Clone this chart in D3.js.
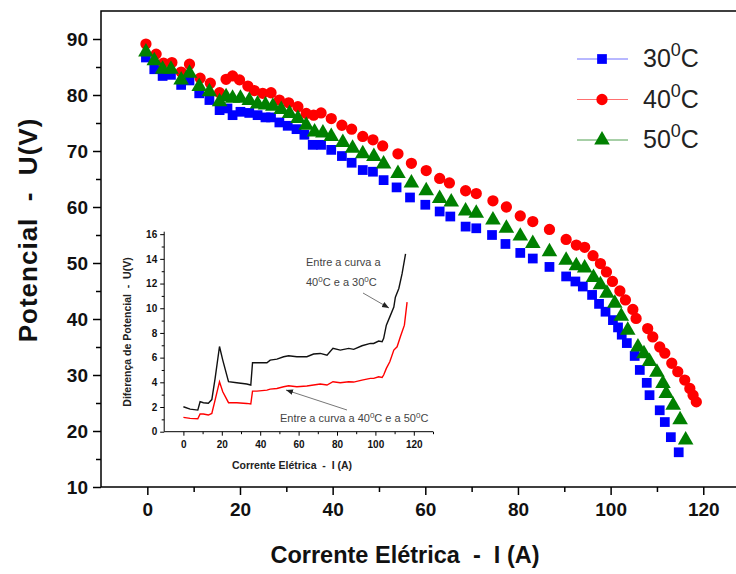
<!DOCTYPE html>
<html>
<head>
<meta charset="utf-8">
<script src="https://cdn.jsdelivr.net/npm/d3@7"></script>
<style>
    body { margin: 0; background: #fff; }
    text { font-family: "Liberation Sans", Arial, sans-serif; }
</style>
</head>
<body>
<div id="chart"></div>
<script>
// main chart: current I (A) and potential U (V)
const i30 = [-0.3,1.5,3.3,5.1,7.3,9.1,11.2,13.4,15.6,17.3,18.4,20.1,22,23.8,25.5,26.7,28.5,30.3,32.2,33.9,35.7,37.5,39.7,42,44.1,46.5,48.7,51,53.8,56.7,60,63.1,65.4,68.7,71,74.4,77.3,80.5,83.2,86.8,90.4,92.4,94,96,97.5,98.9,100.5,101.6,102.4,103.5,105.2,106.3,107.8,108.4,110.6,111.7,113,114.7]
const u30 = [86.7,84.6,83.4,83.6,81.8,82.6,80.3,79.1,77.3,77.6,76.4,77,76.8,76.4,76,76,75.1,74.5,73.9,72.9,71.1,71.1,70.2,69.1,67.9,66.6,66.3,64.8,63.5,61.7,60.4,59.2,58.3,56.5,56.2,55,53.4,51.8,50.8,49.3,47.6,46.7,45.8,44.3,42.7,41.3,39.8,38.5,37.2,35.7,33.4,30.9,28.6,26.4,23.7,21.6,18.9,16.2]

const i40 = [-0.3,1.9,3.5,5.3,7.3,9.1,11.4,13.6,15.6,17,18.4,19.9,21.7,23.1,24.9,26.7,28.5,30.5,32.5,34.3,35.9,37.5,39.7,42,44.1,46.5,48.7,50.8,54.1,57,60.2,63.1,65.2,68.7,71,74.6,77.5,80.5,83.2,86.8,90.4,92.6,94.4,96.2,97.8,99.1,100.4,102,103.2,104.8,105.5,108,109.1,110.6,111.7,113.2,114.5,116,117.1,117.8,118.5]
const u40 = [89.1,87.3,85.7,85.8,84.1,85.5,83,82.1,80.4,82.8,83.4,82.7,81.6,80.8,80.3,80.4,79.1,78.6,77.9,76.7,76.4,76.8,75.8,74.6,73.9,72.6,72,70.9,69.5,67.8,66.5,65.1,64.3,62.9,62.4,61.1,60,58.4,57.4,56,54.2,53.2,52.8,51.3,49.9,48.4,46.7,45,43.4,41.7,40.1,38.3,36.8,35,33.9,32.1,30.6,29.1,27.6,26.4,25.2]

const i50 = [-0.3,1.5,3.3,5.1,7.3,9.1,11.2,13.4,15.6,17,18.4,20.1,22,23.8,25.5,27.1,28.9,30.7,32.5,34.3,36.1,37.9,39.7,42.2,44.3,46.5,48.9,51,54.1,57,60.2,63.1,65.6,68.7,71,74.6,77.5,80.5,83.2,86.8,90.4,92.6,94.4,96.3,97.8,99.2,100.9,102.3,103.7,105.9,107.2,108.4,110,111.3,112,113.5,115,116.2]
const u50 = [87.7,86.1,84.6,84.6,82.7,83.9,81.5,80.6,78.8,79.7,79.4,79.4,79,78.4,78.2,78,77.4,76.7,75.8,74.6,73.4,73.2,72.6,71.5,70.5,69.5,69,67.7,66,64.3,62.9,61.5,60.9,59.3,58.9,57.7,56.2,54.8,53.5,52,50.5,49.5,49.1,47.4,46.1,44.6,42.8,40.5,38,35,33.8,32.4,30.5,28.5,26.7,24.6,22,18.4]

// inset: difference of potential
const iDiff = [0,3.5,7.5,8.7,10.4,13,14.8,16.5,18.8,20.5,23.5,27.8,33,35.1,36,38.3,43.5,45.2,48.7,52.2,54.8,59.1,64.3,67.8,71.3,74.8,77.9,81.7,86.1,88.7,93,97.4,99.1,101.7,103.5,104.3,105.7,107.5,109.6,110.4,112.2,113.9,115.7]
const d40_30 = [2.02,1.83,1.75,2.43,2.35,2.3,2.6,4.3,6.9,5.8,4.05,3.97,3.86,3.78,5.58,5.58,5.58,5.8,5.88,6.07,6.15,6.07,6.07,6.29,6.34,6.2,6.75,6.61,6.75,6.67,6.96,7.15,7.15,7.34,7.29,7.56,8.63,9.3,10.1,10.9,11.6,12.8,14.4]
const iDiff2 = [0,3.5,7.5,8.7,10.4,13,14.8,16.5,18.8,20.5,23.5,27.8,33,35.1,36,38.3,43.5,45.2,48.7,52.2,54.8,59.1,64.3,67.8,71.3,74.8,77.9,81.7,86.1,88.7,93,97.4,99.1,101.7,103.5,104.3,105.7,107.5,109.6,111.3,113,115.1,116.5]
const d40_50 = [1.16,1.08,1.05,1.43,1.43,1.35,1.48,2.56,4.05,3.24,2.35,2.35,2.29,2.24,3.29,3.29,3.37,3.45,3.5,3.64,3.72,3.64,3.7,3.78,3.86,3.78,4.05,3.97,4.05,4.02,4.18,4.32,4.32,4.45,4.4,4.59,5.13,5.67,6.61,6.88,7.69,8.63,10.5]

const xTicks = [0, 20, 40, 60, 80, 100, 120]
const yTicks = [10, 20, 30, 40, 50, 60, 70, 80, 90]
const insetXTicks = [0, 20, 40, 60, 80, 100, 120]
const insetYTicks = [0, 2, 4, 6, 8, 10, 12, 14, 16]

const series = [
    { name: '30', i: i30, u: u30, color: '#0000ff', line: '#7070ff', shape: d3.symbolSquare },
    { name: '40', i: i40, u: u40, color: '#ff0000', line: '#ff7070', shape: d3.symbolCircle },
    { name: '50', i: i50, u: u50, color: '#008000', line: '#50a050', shape: d3.symbolTriangle },
]

const width = 736
const height = 574

const svg = d3
    .select('#chart')
    .append('svg')
    .attr('width', width)
    .attr('height', height)

const xScale = d3.scaleLinear().domain([-10, 130]).range([101, 749.6])
const yScale = d3.scaleLinear().domain([10, 95]).range([487, 11])

const symSize = s => s.shape === d3.symbolTriangle ? 105 : (s.shape === d3.symbolSquare ? 95 : 100)

// frame (right edge falls outside the picture)
svg.append('path')
    .attr('d', `M${xScale(130)},${yScale(95)}H${xScale(-10)}V${yScale(10)}H${xScale(130)}`)
    .attr('fill', 'none')
    .attr('stroke', '#000')
    .attr('stroke-width', 1.5)

const xAxis = svg
    .append('g')
    .attr('transform', `translate(0,${yScale(10)})`)
    .call(d3.axisBottom(xScale).tickValues(xTicks).tickSize(8).tickSizeOuter(0).tickPadding(8))
xAxis.select('.domain').remove()
xAxis.selectAll('line').attr('stroke-width', 1.5)
xAxis.selectAll('text')
    .attr('font-size', 19)
    .attr('font-weight', 'bold')
    .attr('fill', '#111')

svg.append('g')
    .attr('transform', `translate(0,${yScale(10)})`)
    .call(d3.axisBottom(xScale).tickValues([10, 30, 50, 70, 90, 110]).tickSize(5).tickFormat(''))
    .call(g => g.select('.domain').remove())
    .selectAll('line').attr('stroke-width', 1.5)

const yAxis = svg
    .append('g')
    .attr('transform', `translate(${xScale(-10)},0)`)
    .call(d3.axisLeft(yScale).tickValues(yTicks).tickSize(8).tickSizeOuter(0).tickPadding(5))
yAxis.select('.domain').remove()
yAxis.selectAll('line').attr('stroke-width', 1.5)
yAxis.selectAll('text')
    .attr('font-size', 19)
    .attr('font-weight', 'bold')
    .attr('fill', '#111')

svg.append('g')
    .attr('transform', `translate(${xScale(-10)},0)`)
    .call(d3.axisLeft(yScale).tickValues([15, 25, 35, 45, 55, 65, 75, 85]).tickSize(5).tickFormat(''))
    .call(g => g.select('.domain').remove())
    .selectAll('line').attr('stroke-width', 1.5)

svg.append('text')
    .attr('x', 405)
    .attr('y', 563)
    .attr('text-anchor', 'middle')
    .attr('font-size', 23.5)
    .attr('font-weight', 'bold')
    .attr('fill', '#111')
    .style('white-space', 'pre')
    .text('Corrente Elétrica  -  I (A)')

svg.append('text')
    .attr('transform', `translate(37,230) rotate(-90)`)
    .attr('text-anchor', 'middle')
    .attr('font-size', 26)
    .attr('font-weight', 'bold')
    .attr('letter-spacing', 1)
    .attr('fill', '#111')
    .style('white-space', 'pre')
    .text('Potencial  -  U(V)')

// points
series.forEach(s => {
    const sym = d3.symbol().type(s.shape).size(symSize(s))
    svg.append('g')
        .selectAll('path')
        .data(s.i.map((v, k) => [v, s.u[k]]))
        .join('path')
        .attr('transform', d => `translate(${xScale(d[0])},${yScale(d[1])})`)
        .attr('d', sym)
        .attr('fill', s.color)
})

// legend
const legend = svg.append('g')
series.forEach((s, k) => {
    const yy = 59 + k * 40.5
    legend.append('line')
        .attr('x1', 577).attr('x2', 628)
        .attr('y1', yy).attr('y2', yy)
        .attr('stroke', s.line)
        .attr('stroke-width', 1)
    legend.append('path')
        .attr('transform', `translate(602,${yy})`)
        .attr('d', d3.symbol().type(s.shape).size(symSize(s)))
        .attr('fill', s.color)
    const t = legend.append('text')
        .attr('x', 643)
        .attr('y', yy + 8)
        .attr('font-size', 25)
        .attr('fill', '#222')
    t.append('tspan').text(s.name)
    t.append('tspan').attr('dy', -11).attr('font-size', 18).text('0')
    t.append('tspan').attr('dy', 11).text('C')
})

// inset
const ix = d3.scaleLinear().domain([-10, 130]).range([164.2, 433])
const iy = d3.scaleLinear().domain([0, 16.2]).range([431.7, 231.7])
const inset = svg.append('g')

inset.append('path')
    .attr('d', `M${ix(-10)},${iy(16.2)}V${iy(0)}H${ix(130)}`)
    .attr('fill', 'none')
    .attr('stroke', '#000')
    .attr('stroke-width', 1)

const ixAxis = inset.append('g')
    .attr('transform', `translate(0,${iy(0)})`)
    .call(d3.axisBottom(ix).tickValues(insetXTicks).tickSize(4).tickSizeOuter(0).tickPadding(5))
ixAxis.select('.domain').remove()
ixAxis.selectAll('text').attr('font-size', 10).attr('font-weight', 'bold').attr('fill', '#111')
inset.append('g')
    .attr('transform', `translate(0,${iy(0)})`)
    .call(d3.axisBottom(ix).tickValues([10, 30, 50, 70, 90, 110, 130]).tickSize(2.5).tickFormat(''))
    .call(g => g.select('.domain').remove())

const iyAxis = inset.append('g')
    .attr('transform', `translate(${ix(-10)},0)`)
    .call(d3.axisLeft(iy).tickValues(insetYTicks).tickSize(4).tickSizeOuter(0).tickPadding(3))
iyAxis.select('.domain').remove()
iyAxis.selectAll('text').attr('font-size', 10).attr('font-weight', 'bold').attr('fill', '#111')
inset.append('g')
    .attr('transform', `translate(${ix(-10)},0)`)
    .call(d3.axisLeft(iy).tickValues([1, 3, 5, 7, 9, 11, 13, 15]).tickSize(2.5).tickFormat(''))
    .call(g => g.select('.domain').remove())

inset.append('text')
    .attr('x', 292).attr('y', 469)
    .attr('text-anchor', 'middle')
    .attr('font-size', 10.5)
    .attr('font-weight', 'bold')
    .attr('fill', '#222')
    .style('white-space', 'pre')
    .text('Corrente Elétrica  -  I (A)')

inset.append('text')
    .attr('transform', 'translate(131,332) rotate(-90)')
    .attr('text-anchor', 'middle')
    .attr('font-size', 10.5)
    .attr('font-weight', 'bold')
    .attr('fill', '#222')
    .style('white-space', 'pre')
    .text('Diferença de Potencial  -  U(V)')

const diffLine = d3.line().x(d => ix(d[0])).y(d => iy(d[1]))
inset.append('path')
    .datum(iDiff.map((v, k) => [v, d40_30[k]]))
    .attr('fill', 'none')
    .attr('stroke', '#111')
    .attr('stroke-width', 1.4)
    .attr('d', diffLine)
inset.append('path')
    .datum(iDiff2.map((v, k) => [v, d40_50[k]]))
    .attr('fill', 'none')
    .attr('stroke', '#ff0000')
    .attr('stroke-width', 1.4)
    .attr('d', diffLine)

// annotations
svg.append('defs').append('marker')
    .attr('id', 'arrow')
    .attr('viewBox', '0 0 10 10')
    .attr('refX', 10).attr('refY', 5)
    .attr('markerWidth', 7).attr('markerHeight', 7)
    .attr('orient', 'auto')
    .append('path')
    .attr('d', 'M0,1L10,5L0,9z')
    .attr('fill', '#222')

inset.append('line')
    .attr('x1', 363).attr('y1', 293).attr('x2', 389).attr('y2', 308)
    .attr('stroke', '#777').attr('stroke-width', 1)
    .attr('marker-end', 'url(#arrow)')
inset.append('line')
    .attr('x1', 347).attr('y1', 410).attr('x2', 286).attr('y2', 390)
    .attr('stroke', '#777').attr('stroke-width', 1)
    .attr('marker-end', 'url(#arrow)')

// text with superscript zeros ("0" parts are raised)
function note(x, y, parts) {
    const t = inset.append('text')
        .attr('x', x).attr('y', y)
        .attr('font-size', 11)
        .attr('fill', '#444')
    let raised = false
    parts.forEach(p => {
        if (p === '0') {
            t.append('tspan').attr('dy', -4.5).attr('font-size', 8).text('0')
            raised = true
        } else {
            t.append('tspan').attr('dy', raised ? 4.5 : 0).text(p)
            raised = false
        }
    })
}
note(306, 266, ['Entre a curva a'])
note(306, 286, ['40', '0', 'C e a 30', '0', 'C'])
note(280, 422, ['Entre a curva a 40', '0', 'C e a 50', '0', 'C'])
</script>
</body>
</html>
